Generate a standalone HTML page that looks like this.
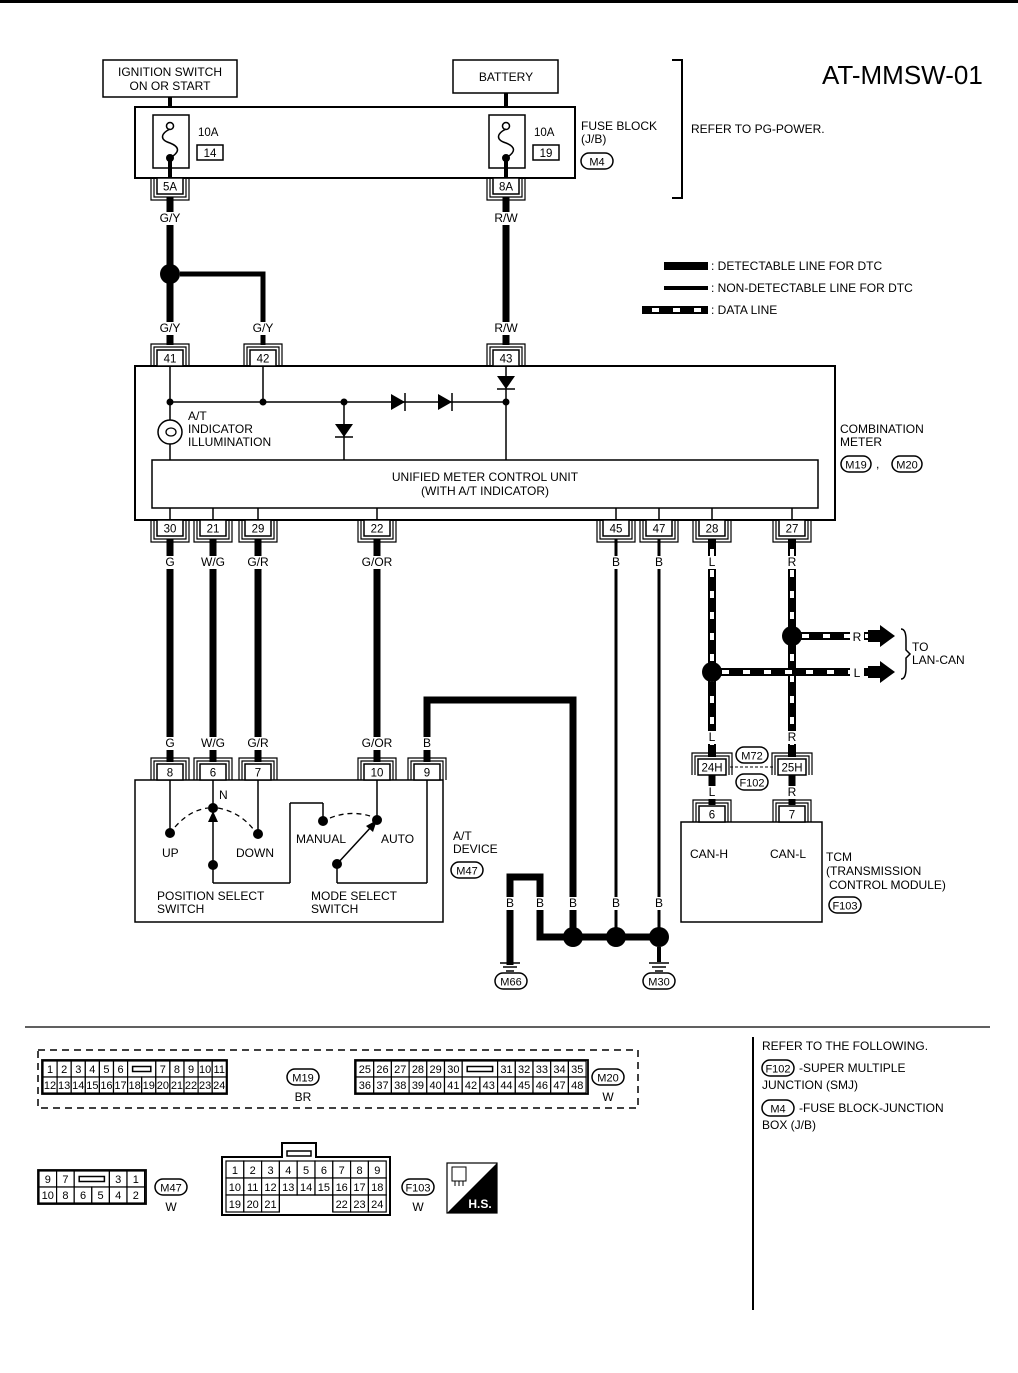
<!DOCTYPE html>
<html><head><meta charset="utf-8"><style>
html,body{margin:0;padding:0;background:#fff}
svg{display:block}
text{font-family:"Liberation Sans",sans-serif;fill:#000}
</style></head><body>
<svg id="s" width="1018" height="1373" viewBox="0 0 1018 1373" xmlns="http://www.w3.org/2000/svg"></svg>
<script>
var o=[];
function L(x1,y1,x2,y2,w,extra){o.push('<line x1="'+x1+'" y1="'+y1+'" x2="'+x2+'" y2="'+y2+'" stroke="#000" stroke-width="'+(w||1.5)+'" '+(extra||'')+'/>');}
function R(x,y,w,h,sw,fill){o.push('<rect x="'+x+'" y="'+y+'" width="'+w+'" height="'+h+'" fill="'+(fill||'#fff')+'" stroke="#000" stroke-width="'+(sw||1.5)+'"/>');}
function T(x,y,s,sz,anchor){o.push('<text x="'+x+'" y="'+y+'" font-size="'+(sz||12)+'" text-anchor="'+(anchor||'start')+'">'+s+'</text>');}
function D(x,y,r){o.push('<circle cx="'+x+'" cy="'+y+'" r="'+(r||4)+'" fill="#000"/>');}
function P(d,sw,fill){o.push('<path d="'+d+'" fill="'+(fill||'none')+'" stroke="#000" stroke-width="'+(sw||1.5)+'"/>');}
function OV(x,y,s,w){w=w||30;o.push('<rect x="'+(x-w/2)+'" y="'+(y-8)+'" width="'+w+'" height="16" rx="8" fill="#fff" stroke="#000" stroke-width="1.5"/>');T(x,y+4.5,s,11,'middle');}
function DL(x1,y1,x2,y2){L(x1,y1,x2,y2,8);o.push('<line x1="'+x1+'" y1="'+y1+'" x2="'+x2+'" y2="'+y2+'" stroke="#fff" stroke-width="4" stroke-dasharray="7 14" stroke-dashoffset="-10"/>');}
function C(x,ya,dir,s,w){w=w||26;var h=16;var yb=dir<0?ya-h:ya;R(x-w/2,yb,w,h,1.5);T(x,yb+12.5,s,11.5,'middle');
 var f=dir<0?ya-h-3:ya+h+3;var f2=dir<0?ya-h-6:ya+h+6;
 P('M'+(x-w/2-3)+' '+ya+' L'+(x-w/2-3)+' '+f+' L'+(x+w/2+3)+' '+f+' L'+(x+w/2+3)+' '+ya,1.2);
 P('M'+(x-w/2-6)+' '+ya+' L'+(x-w/2-6)+' '+f2+' L'+(x+w/2+6)+' '+f2+' L'+(x+w/2+6)+' '+ya,1.2);}
function WL(x,y,s){o.push('<rect x="'+(x-14)+'" y="'+(y-10)+'" width="28" height="13" fill="#fff"/>');T(x,y,s,12,'middle');}
L(0,1.5,1018,1.5,3);
T(822,84,'AT-MMSW-01',26);
R(103,60,134,37);T(170,76,'IGNITION SWITCH',12,'middle');T(170,90,'ON OR START',12,'middle');
R(453,60,105,33);T(506,81,'BATTERY',12,'middle');
L(170,97,170,125,4);L(506,93,506,125,4);
R(135,107,440,71,2);
function fuse(x,n){R(x-17,115,36,53,1.5);o.push('<circle cx="'+x+'" cy="126" r="3.5" fill="#fff" stroke="#000" stroke-width="1.5"/>');D(x,158,4);P('M'+x+' 129 C'+(x-10)+' 134 '+(x-10)+' 140 '+x+' 143 C'+(x+10)+' 147 '+(x+10)+' 152 '+x+' 158',1.5);T(x+28,136,'10A',11.5);R(x+27,145,26,15,1.5);T(x+40,157,n,11.5,'middle');}
fuse(170,'14');fuse(506,'19');
L(170,158,170,178,4);L(506,158,506,178,4);
T(581,130,'FUSE BLOCK',12);T(581,143,'(J/B)',12);OV(597,161,'M4',32);
P('M672 60 L682 60 L682 198 L672 198',2);T(691,133,'REFER TO PG-POWER.',12);
C(170,178,1,'5A');C(506,178,1,'8A');
L(170,197,170,345,7);L(506,197,506,345,7);
D(170,274,10);P('M180 274 L263 274 L263 345',5);
WL(170,222,'G/Y');WL(506,222,'R/W');WL(170,332,'G/Y');WL(263,332,'G/Y');WL(506,332,'R/W');
L(664,266,708,266,8);T(711,270,': DETECTABLE LINE FOR DTC',12);
L(664,288,708,288,4);T(711,292,': NON-DETECTABLE LINE FOR DTC',12);
DL(642,310,708,310);T(711,314,': DATA LINE',12);
R(135,366,700,154,2);
C(170,366,-1,'41');C(263,366,-1,'42');C(506,366,-1,'43');
L(170,366,170,460,1.5);L(263,366,263,402,1.5);L(170,402,506,402,1.5);L(506,366,506,460,1.5);L(344,402,344,460,1.5);
D(170,402,3.5);D(263,402,3.5);D(344,402,3.5);D(506,402,3.5);
o.push('<polygon points="391,394 391,410 405,402" fill="#000"/>');L(405,393,405,411,1.5);
o.push('<polygon points="438,394 438,410 452,402" fill="#000"/>');L(452,393,452,411,1.5);
o.push('<polygon points="335,424 353,424 344,437" fill="#000"/>');L(335,437,353,437,1.5);
o.push('<polygon points="497,376 515,376 506,389" fill="#000"/>');L(497,389,515,389,1.5);
o.push('<circle cx="170" cy="432" r="12" fill="#fff" stroke="#000" stroke-width="1.5"/>');
o.push('<ellipse cx="171" cy="432" rx="5" ry="4" fill="none" stroke="#000" stroke-width="1.3"/>');
T(188,420,'A/T',12);T(188,433,'INDICATOR',12);T(188,446,'ILLUMINATION',12);
R(152,460,666,48,1.5);T(485,481,'UNIFIED METER CONTROL UNIT',12,'middle');T(485,495,'(WITH A/T INDICATOR)',12,'middle');
T(840,433,'COMBINATION',12);T(840,446,'METER',12);OV(856,464,'M19',30);T(876,468,',',12);OV(907,464,'M20',30);
var bx=[[170,'30'],[213,'21'],[258,'29'],[377,'22'],[616,'45'],[659,'47'],[712,'28'],[792,'27']];
bx.forEach(function(b){L(b[0],508,b[0],520,1.5);C(b[0],520,1,b[1]);});
[170,213,258,377].forEach(function(x){L(x,539,x,762,7);});
[616,659].forEach(function(x){L(x,539,x,935,3);});
WL(170,566,'G');WL(213,566,'W/G');WL(258,566,'G/R');WL(377,566,'G/OR');WL(616,566,'B');WL(659,566,'B');
DL(712,539,712,757);DL(792,539,792,757);
WL(712,566,'L');WL(792,566,'R');
DL(792,636,868,636);DL(712,672,868,672);
D(792,636,10);D(712,672,10);
o.push('<rect x="850" y="629" width="14" height="14" fill="#fff"/>');T(857,641,'R',12,'middle');
o.push('<rect x="850" y="665" width="14" height="14" fill="#fff"/>');T(857,677,'L',12,'middle');
o.push('<polygon points="868,630 880,630 880,625 895,636 880,647 880,642 868,642" fill="#000"/>');
o.push('<polygon points="868,666 880,666 880,661 895,672 880,683 880,678 868,678" fill="#000"/>');
P('M901 629 Q906 629 906 640 L906 650 L910 654 L906 658 L906 668 Q906 679 901 679',1.5);
T(912,651,'TO',12);T(912,664,'LAN-CAN',12);
WL(712,741,'L');WL(792,741,'R');
C(712,775,-1,'24H',28);C(792,775,-1,'25H',28);
L(730,767,774,767,1,'stroke-dasharray="3 2"');
OV(752,755,'M72',32);OV(752,782,'F102',32);
L(712,775,712,805,7);L(792,775,792,805,7);
WL(712,796,'L');WL(792,796,'R');
R(681,822,141,100,1.5);C(712,822,-1,'6');C(792,822,-1,'7');
T(690,858,'CAN-H',12);T(770,858,'CAN-L',12);
T(826,861,'TCM',12);T(826,875,'(TRANSMISSION',12);T(829,889,'CONTROL MODULE)',12);OV(845,905,'F103',32);
WL(170,747,'G');WL(213,747,'W/G');WL(258,747,'G/R');WL(377,747,'G/OR');
P('M427 762 L427 700 L573 700 L573 935',7);WL(427,747,'B');
R(135,780,308,142,1.5);
[[170,'8'],[213,'6'],[258,'7'],[377,'10'],[427,'9']].forEach(function(b){C(b[0],780,-1,b[1]);});
L(170,780,170,829,1.5);D(170,833,5);L(213,780,213,807,1.5);D(213,808,5);L(258,780,258,833,1.5);D(258,834,5);
o.push('<path d="M175 827 Q190 810 208 808" fill="none" stroke="#000" stroke-width="1.3" stroke-dasharray="5 4"/>');
o.push('<path d="M218 808 Q240 812 254 830" fill="none" stroke="#000" stroke-width="1.3" stroke-dasharray="5 4"/>');
D(213,865,5);L(213,865,213,820,1.5);o.push('<polygon points="208,822 218,822 213,811" fill="#000"/>');
L(213,865,213,883,1.5);L(213,883,290,883,1.5);L(290,883,290,803,1.5);L(290,803,323,803,1.5);L(323,803,323,819,1.5);D(323,821,5);
o.push('<path d="M330 818 Q350 810 370 816" fill="none" stroke="#000" stroke-width="1.3" stroke-dasharray="5 4"/>');
L(377,780,377,817,1.5);D(377,820,5);
D(337,864,5);L(337,864,372,826,1.5);o.push('<polygon points="377,820 366,826 373,832" fill="#000"/>');
L(337,864,337,883,1.5);L(337,883,427,883,1.5);L(427,883,427,780,1.5);
T(219,799,'N',12);
T(162,857,'UP',12);T(236,857,'DOWN',12);T(296,843,'MANUAL',12);T(381,843,'AUTO',12);
T(157,900,'POSITION SELECT',12);T(157,913,'SWITCH',12);T(311,900,'MODE SELECT',12);T(311,913,'SWITCH',12);
T(453,840,'A/T',12);T(453,853,'DEVICE',12);OV(467,870,'M47',32);
P('M510 965 L510 877 L540 877 L540 937 L659 937',7);
D(573,937,10);D(616,937,10);D(659,937,10);
WL(510,907,'B');WL(540,907,'B');WL(573,907,'B');WL(616,907,'B');WL(659,907,'B');
L(510,955,510,962,7);L(659,947,659,962,4);
function gnd(x,y){L(x-10,y,x+10,y,1.5);L(x-7,y+4,x+7,y+4,1.5);L(x-4,y+8,x+4,y+8,1.5);}
gnd(510,963);gnd(659,963);OV(511,981,'M66',32);OV(659,981,'M30',32);
L(25,1027,990,1027,1.2);L(753,1037,753,1310,2);
T(762,1050,'REFER TO THE FOLLOWING.',12);OV(778,1068,'F102',32);T(799,1072,'-SUPER MULTIPLE',12);T(762,1089,'JUNCTION (SMJ)',12);
OV(778,1108,'M4',32);T(799,1112,'-FUSE BLOCK-JUNCTION',12);T(762,1129,'BOX (J/B)',12);
o.push('<rect x="38" y="1050" width="600" height="58" fill="none" stroke="#000" stroke-width="1.5" stroke-dasharray="7 5"/>');
function grid(x0,y0,cw,ch,rows){rows.forEach(function(r,ri){var x=x0;r.forEach(function(c){if(c===null){x+=cw;return;}if(typeof c=='object'){var w=c.w*cw;R(x,y0+ri*ch,w,ch,1.2);if(c.slot)o.push('<rect x="'+(x+5)+'" y="'+(y0+ri*ch+ch/2-2.5)+'" width="'+(w-10)+'" height="5" fill="#fff" stroke="#000" stroke-width="1.5"/>');x+=w;return;}R(x,y0+ri*ch,cw,ch,1.2);T(x+cw/2,y0+ri*ch+ch-4,c,11,'middle');x+=cw;});});}
grid(43,1061,14.1,16,[['1','2','3','4','5','6',{w:2,slot:1},'7','8','9','10','11'],['12','13','14','15','16','17','18','19','20','21','22','23','24']]);
R(42,1060,185,34,1.8,'none');OV(303,1077,'M19',32);T(303,1101,'BR',12,'middle');
grid(356,1061,17.7,16,[['25','26','27','28','29','30',{w:2,slot:1},'31','32','33','34','35'],['36','37','38','39','40','41','42','43','44','45','46','47','48']]);
R(355,1060,233,34,1.8,'none');OV(608,1077,'M20',32);T(608,1101,'W',12,'middle');
grid(39,1171,17.6,16,[['9','7',{w:2,slot:1},'3','1'],['10','8','6','5','4','2']]);
R(38,1170,108,34,1.8,'none');OV(171,1187,'M47',32);T(171,1211,'W',12,'middle');
P('M222 1157 L282 1157 L282 1143 L316 1143 L316 1157 L390 1157 L390 1215 L222 1215 Z',2);
o.push('<rect x="287" y="1151" width="24" height="5" fill="#fff" stroke="#000" stroke-width="1.5"/>');
grid(226,1161,17.8,17,[['1','2','3','4','5','6','7','8','9'],['10','11','12','13','14','15','16','17','18'],['19','20','21',null,null,null,'22','23','24']]);
P('M279.4 1212 L279.4 1195 L332.8 1195 L332.8 1212',1.2);
OV(418,1187,'F103',32);T(418,1211,'W',12,'middle');
R(447,1163,50,50,1.2);o.push('<polygon points="497,1163 497,1213 447,1213" fill="#000"/>');
o.push('<text x="480" y="1208" font-size="12" font-weight="bold" text-anchor="middle" style="fill:#fff">H.S.</text>');
R(452,1167,14,14,1);L(455,1181,455,1186,1);L(459,1181,459,1186,1);L(463,1181,463,1186,1);
document.getElementById('s').innerHTML=o.join('');
</script>
</body></html>
